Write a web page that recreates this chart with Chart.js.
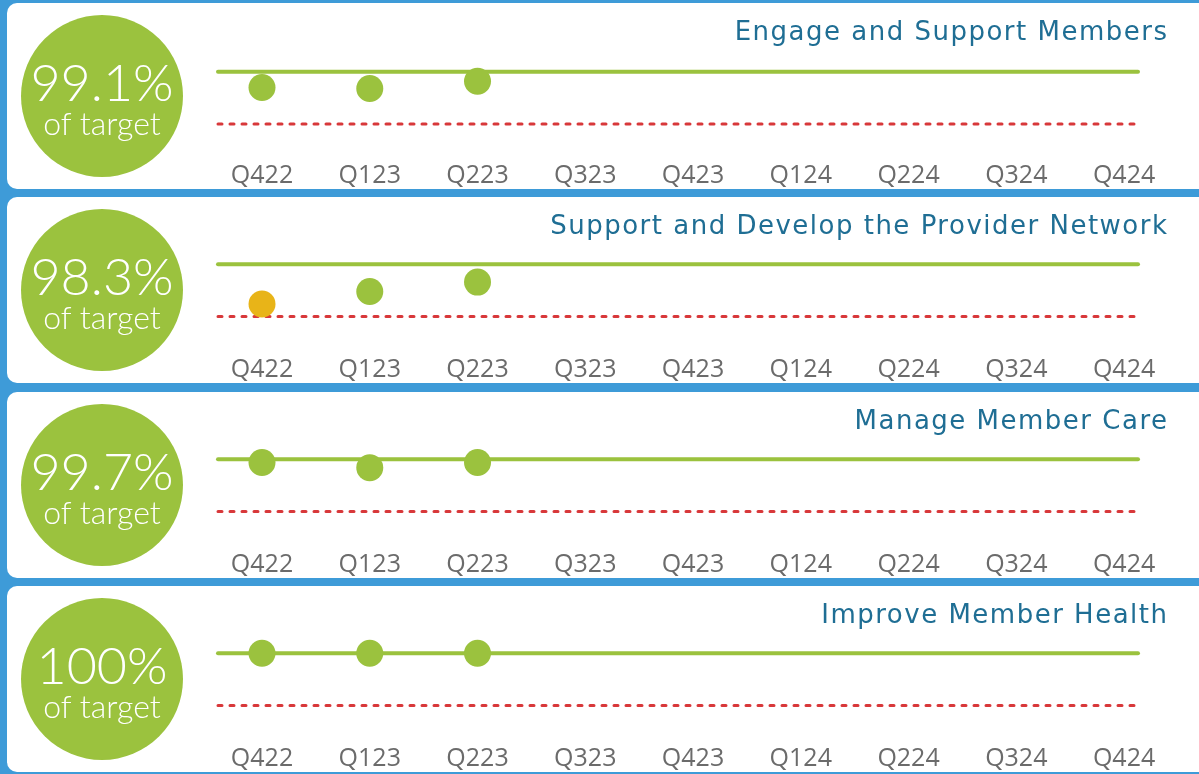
<!DOCTYPE html>
<html>
<head>
<meta charset="utf-8">
<script src="https://cdn.jsdelivr.net/npm/chart.js@4/dist/chart.umd.min.js"></script>
<style>
html,body{margin:0;padding:0;background:#3e9bd8;width:1199px;height:774px;overflow:hidden;position:relative;}
.panel{position:absolute;left:7px;width:1240px;height:186px;background:#fff;border-radius:10px;overflow:hidden;}
.panel canvas{position:absolute;left:0;top:0;}
.circle{position:absolute;left:14px;top:12px;width:162px;height:162px;border-radius:50%;background:#9bc23e;color:#fff;text-align:center;font-family:Lato,"Open Sans",sans-serif;font-weight:300;}
.pct{position:absolute;left:-20px;right:-20px;top:40px;font-size:52px;line-height:52px;white-space:nowrap;}
.sub{position:absolute;left:-20px;right:-20px;top:92px;font-size:32px;line-height:32px;white-space:nowrap;}
.title{position:absolute;right:78.5px;top:13px;font-family:"DejaVu Sans",sans-serif;font-size:26px;line-height:30px;color:#1f6e94;white-space:nowrap;letter-spacing:1.5px;}
</style>
</head>
<body>
<script>
// ---- data ----
const QUARTERS = ["Q422","Q123","Q223","Q323","Q423","Q124","Q224","Q324","Q424"];
const TITLES = ["Engage and Support Members","Support and Develop the Provider Network","Manage Member Care","Improve Member Health"];
const HEADLINE = [99.1, 98.3, 99.7, 100];
const ENGAGE = [98.5, 98.4, 99.1];
const PROVIDER = [96.2, 97.4, 98.3];
const CARE = [99.7, 99.2, 99.7];
const HEALTH = [100, 100, 100];
const SERIES = [ENGAGE, PROVIDER, CARE, HEALTH];
const TARGET = 100;
const THRESHOLD = 95;
const WARN_BELOW = 97;

const GREEN = "#9bc23e", RED = "#d8383a", ORANGE = "#e8b418";

const refLines = {
  id: "refLines",
  beforeDatasetsDraw(chart) {
    const {ctx, chartArea: a, scales: {y}} = chart;
    ctx.save();
    ctx.lineCap = "round";
    ctx.strokeStyle = GREEN; ctx.lineWidth = 4;
    const ty = y.getPixelForValue(TARGET);
    ctx.beginPath(); ctx.moveTo(a.left + 2, ty); ctx.lineTo(a.right - 2, ty); ctx.stroke();
    ctx.strokeStyle = RED; ctx.lineWidth = 3; ctx.setLineDash([4, 8]);
    const ry = y.getPixelForValue(THRESHOLD);
    ctx.beginPath(); ctx.moveTo(a.left + 2, ry); ctx.lineTo(a.right - 5, ry); ctx.stroke();
    ctx.restore();
  }
};

const PANEL_TOPS_OFFSET = [1.5, 0, 0, 0];

SERIES.forEach((vals, i) => {
  const panel = document.createElement("div");
  panel.className = "panel";
  panel.style.top = Math.round(3 + i * 194.35) + "px";
  const canvas = document.createElement("canvas");
  canvas.width = 1192; canvas.height = 186;
  canvas.style.width = "1192px"; canvas.style.height = "186px";
  panel.appendChild(canvas);
  const circle = document.createElement("div");
  circle.className = "circle";
  const pct = document.createElement("div"); pct.className = "pct";
  pct.textContent = (HEADLINE[i] % 1 === 0 ? HEADLINE[i].toFixed(0) : HEADLINE[i].toFixed(1)) + "%";
  const sub = document.createElement("div"); sub.className = "sub"; sub.textContent = "of target";
  circle.appendChild(pct); circle.appendChild(sub);
  panel.appendChild(circle);
  const title = document.createElement("div"); title.className = "title"; title.textContent = TITLES[i];
  panel.appendChild(title);
  document.body.appendChild(panel);

  new Chart(canvas, {
    type: "scatter",
    data: {
      datasets: [{
        data: vals.map((v, j) => ({x: j, y: v})),
        pointRadius: 13.5,
        pointHoverRadius: 13.5,
        borderWidth: 0,
        pointBorderWidth: 0,
        backgroundColor: ctx => (ctx.raw && ctx.raw.y < WARN_BELOW ? ORANGE : GREEN),
        pointBackgroundColor: ctx => (ctx.raw && ctx.raw.y < WARN_BELOW ? ORANGE : GREEN)
      }]
    },
    options: {
      responsive: false,
      animation: false,
      devicePixelRatio: 1,
      layout: {padding: {left: 209, right: 59, top: 15 + PANEL_TOPS_OFFSET[i], bottom: 0}},
      plugins: {legend: {display: false}, tooltip: {enabled: false}},
      scales: {
        x: {
          type: "linear",
          min: -0.427, max: 8.148,
          grid: {display: false, drawTicks: false},
          border: {display: false},
          afterBuildTicks: s => { s.ticks = QUARTERS.map((_, j) => ({value: j})); },
          afterFit: s => { s.height = 35 - PANEL_TOPS_OFFSET[i]; },
          ticks: {
            autoSkip: false, maxRotation: 0, padding: 6.5 - PANEL_TOPS_OFFSET[i],
            color: "#6b6b6b",
            font: {family: "'Open Sans'", size: 25},
            callback: v => QUARTERS[v]
          }
        },
        y: {display: false, min: 92, max: 105}
      }
    },
    plugins: [refLines]
  });
});
</script>
</body>
</html>
